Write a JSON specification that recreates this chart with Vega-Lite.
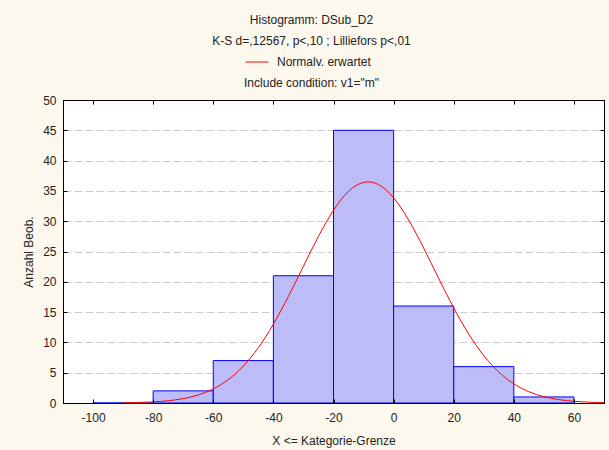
{
  "$schema": "https://vega.github.io/schema/vega-lite/v6.json",
  "width": 541,
  "height": 303,
  "autosize": {"type": "none"},
  "padding": {"left": 63, "top": 100, "right": 5, "bottom": 47},
  "background": "#fdf8ee",
  "title": {
    "text": ["Histogramm: DSub_D2", "K-S d=,12567, p<,10 ; Lilliefors p<,01"],
    "subtitle": "Include condition: v1=\"m\"",
    "font": "Liberation Sans",
    "fontSize": 12,
    "fontWeight": "normal",
    "color": "#222222",
    "lineHeight": 21,
    "subtitleFont": "Liberation Sans",
    "subtitleFontSize": 12,
    "subtitleColor": "#222222",
    "subtitlePadding": 30,
    "anchor": "middle",
    "frame": "group",
    "dx": -22,
    "offset": -40
  },
  "config": {
    "view": {"stroke": "#000000", "strokeWidth": 1, "fill": "#ffffff"},
    "axis": {
      "labelFont": "Liberation Sans",
      "labelFontSize": 12,
      "labelColor": "#222222",
      "titleFont": "Liberation Sans",
      "titleFontSize": 12,
      "titleFontWeight": "normal",
      "titleColor": "#222222",
      "domainColor": "#000000",
      "tickColor": "#000000"
    }
  },
  "datasets": {
    "bins": [
      {"lower": -100, "upper": -80, "count": 0},
      {"lower": -80, "upper": -60, "count": 2},
      {"lower": -60, "upper": -40, "count": 7},
      {"lower": -40, "upper": -20, "count": 21},
      {"lower": -20, "upper": 0, "count": 45},
      {"lower": 0, "upper": 20, "count": 16},
      {"lower": 20, "upper": 40, "count": 6},
      {"lower": 40, "upper": 60, "count": 1}
    ],
    "curve": [
      {"x": -90, "expected": 0.04, "series": "Normalv. erwartet"},
      {"x": -85, "expected": 0.08, "series": "Normalv. erwartet"},
      {"x": -80, "expected": 0.18, "series": "Normalv. erwartet"},
      {"x": -75, "expected": 0.37, "series": "Normalv. erwartet"},
      {"x": -70, "expected": 0.72, "series": "Normalv. erwartet"},
      {"x": -65, "expected": 1.32, "series": "Normalv. erwartet"},
      {"x": -60, "expected": 2.32, "series": "Normalv. erwartet"},
      {"x": -55, "expected": 3.86, "series": "Normalv. erwartet"},
      {"x": -50, "expected": 6.09, "series": "Normalv. erwartet"},
      {"x": -45, "expected": 9.14, "series": "Normalv. erwartet"},
      {"x": -40, "expected": 13.01, "series": "Normalv. erwartet"},
      {"x": -35, "expected": 17.59, "series": "Normalv. erwartet"},
      {"x": -30, "expected": 22.58, "series": "Normalv. erwartet"},
      {"x": -25, "expected": 27.5, "series": "Normalv. erwartet"},
      {"x": -20, "expected": 31.81, "series": "Normalv. erwartet"},
      {"x": -15, "expected": 34.93, "series": "Normalv. erwartet"},
      {"x": -10, "expected": 36.41, "series": "Normalv. erwartet"},
      {"x": -5, "expected": 36.04, "series": "Normalv. erwartet"},
      {"x": 0, "expected": 33.86, "series": "Normalv. erwartet"},
      {"x": 5, "expected": 30.2, "series": "Normalv. erwartet"},
      {"x": 10, "expected": 25.57, "series": "Normalv. erwartet"},
      {"x": 15, "expected": 20.56, "series": "Normalv. erwartet"},
      {"x": 20, "expected": 15.69, "series": "Normalv. erwartet"},
      {"x": 25, "expected": 11.37, "series": "Normalv. erwartet"},
      {"x": 30, "expected": 7.82, "series": "Normalv. erwartet"},
      {"x": 35, "expected": 5.11, "series": "Normalv. erwartet"},
      {"x": 40, "expected": 3.16, "series": "Normalv. erwartet"},
      {"x": 45, "expected": 1.86, "series": "Normalv. erwartet"},
      {"x": 50, "expected": 1.04, "series": "Normalv. erwartet"},
      {"x": 55, "expected": 0.55, "series": "Normalv. erwartet"},
      {"x": 60, "expected": 0.28, "series": "Normalv. erwartet"},
      {"x": 65, "expected": 0.13, "series": "Normalv. erwartet"},
      {"x": 70, "expected": 0.06, "series": "Normalv. erwartet"}
    ]
  },
  "resolve": {"axis": {"x": "independent", "y": "independent"}},
  "layer": [
    {
      "data": {"name": "bins"},
      "mark": {"type": "rect", "fill": "#bcbcf8", "stroke": "#0000ff", "strokeWidth": 1},
      "encoding": {
        "x": {
          "field": "lower",
          "type": "quantitative",
          "scale": {"domain": [-110, 70], "nice": false, "zero": false},
          "axis": {
            "orient": "bottom",
            "values": [-100, -80, -60, -40, -20, 0, 20, 40, 60],
            "labelExpr": "toString(datum.value)",
            "title": "X <= Kategorie-Grenze",
            "tickSize": -4,
            "labelPadding": 13,
            "titlePadding": 12,
            "grid": false,
            "zindex": 1
          }
        },
        "x2": {"field": "upper"},
        "y": {
          "field": "count",
          "type": "quantitative",
          "scale": {"domain": [0, 50], "nice": false},
          "axis": {
            "orient": "left",
            "values": [0, 5, 10, 15, 20, 25, 30, 35, 40, 45, 50],
            "title": "Anzahl Beob.",
            "tickSize": -4,
            "labelPadding": 11,
            "titlePadding": 7,
            "grid": true,
            "gridColor": "#cccccc",
            "gridDash": [8, 3],
            "gridWidth": 1,
            "zindex": 0
          }
        }
      }
    },
    {
      "data": {"name": "curve"},
      "mark": {"type": "line", "interpolate": "natural", "strokeWidth": 1},
      "encoding": {
        "x": {
          "field": "x",
          "type": "quantitative",
          "axis": {
            "orient": "top",
            "values": [-100, -80, -60, -40, -20, 0, 20, 40, 60],
            "labels": false,
            "title": null,
            "tickSize": -4,
            "grid": false
          }
        },
        "y": {
          "field": "expected",
          "type": "quantitative",
          "axis": {
            "orient": "right",
            "values": [0, 5, 10, 15, 20, 25, 30, 35, 40, 45, 50],
            "labels": false,
            "title": null,
            "tickSize": -4,
            "grid": false
          }
        },
        "color": {
          "field": "series",
          "type": "nominal",
          "scale": {"range": ["#ff0000"]},
          "legend": {
            "title": null,
            "orient": "none",
            "legendX": 182,
            "legendY": -50,
            "padding": 0,
            "symbolType": "stroke",
            "symbolSize": 529,
            "symbolStrokeWidth": 1,
            "labelFont": "Liberation Sans",
            "labelFontSize": 12,
            "labelColor": "#222222",
            "labelOffset": 8
          }
        }
      }
    }
  ]
}
